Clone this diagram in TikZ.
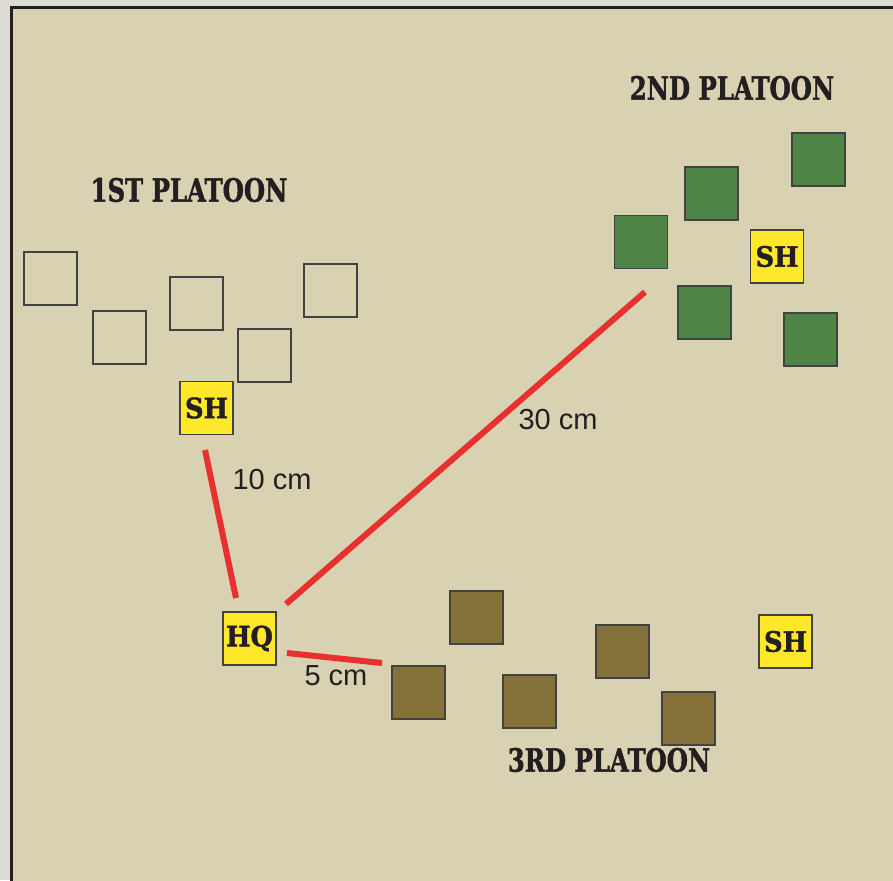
\documentclass[tikz,border=0pt]{standalone}
\usepackage{fontspec}
\setmainfont{Liberation Serif}
\newfontfamily\labfont{Liberation Sans}
\newfontfamily\stenfont[BoldFeatures={FakeBold=1.6}]{DejaVu Serif}
\definecolor{bgout}{HTML}{DCDBD6}
\definecolor{field}{HTML}{D8D2B2}
\definecolor{grn}{HTML}{4F8447}
\definecolor{olv}{HTML}{84723A}
\definecolor{ylw}{HTML}{FFE82A}
\definecolor{redl}{HTML}{E8302F}
\definecolor{ink}{HTML}{231F20}
\begin{document}
\begin{tikzpicture}[x=1pt,y=-1pt,
  unit/.style={draw=ink!85,line width=1.2pt,minimum size=53pt,inner sep=0pt,outer sep=0pt},
  emptyu/.style={unit},
  greenu/.style={unit,fill=grn},
  olivu/.style={unit,fill=olv},
  cmd/.style={unit,fill=ylw,text=ink},
  cmdtxt/.style={font=\stenfont\fontsize{28}{28}\selectfont\bfseries,text=ink,xscale=0.92,transform shape},
  title/.style={font=\stenfont\fontsize{32}{32}\selectfont\bfseries,text=ink,xscale=0.76,transform shape},
  dist/.style={font=\labfont\fontsize{29}{29}\selectfont,text=ink},
  meas/.style={draw=redl,line width=6pt}]
\useasboundingbox (0,0) rectangle (893,880);
\fill[bgout] (0,0) rectangle (893,880);
\fill[field,draw=ink,line width=3pt] (11,8) rectangle (905,900);
% 1st platoon
\node[emptyu] (a1) at (50.5,278.5) {};
\node[emptyu] (a2) at (119.5,337.5) {};
\node[emptyu] (a3) at (196.5,303.5) {};
\node[emptyu] (a4) at (264.5,355.5) {};
\node[emptyu] (a5) at (330.5,290.5) {};
\node[cmd] (sh1) at (206.5,408) {};
\node[cmdtxt] (sh1t) at (sh1) {SH};
% 2nd platoon
\node[greenu] (b1) at (818.5,159.5) {};
\node[greenu] (b2) at (711.5,193.5) {};
\node[greenu] (b3) at (641,242) {};
\node[greenu] (b4) at (704.5,312.5) {};
\node[greenu] (b5) at (810.5,339.5) {};
\node[cmd] (sh2) at (777,256.5) {};
\node[cmdtxt] (sh2t) at (sh2) {SH};
% 3rd platoon
\node[olivu] (c1) at (476.5,617.5) {};
\node[olivu] (c2) at (418.5,692.5) {};
\node[olivu] (c3) at (529.5,701.5) {};
\node[olivu] (c4) at (622.5,651.5) {};
\node[olivu] (c5) at (688.5,718.5) {};
\node[cmd] (sh3) at (785.5,641.5) {};
\node[cmdtxt] (sh3t) at (sh3) {SH};
\node[cmd] (hq) at (249.5,638.5) {};
\node[cmdtxt] (hqt) at (hq) {HQ};
% titles
\node[title] (t1) at (189,190) {1ST PLATOON};
\node[title] (t2) at (732,88) {2ND PLATOON};
\node[title] (t3) at (609,760) {3RD PLATOON};
% measurement lines
\coordinate (l1a) at (205,450); \coordinate (l1b) at (236,598);
\coordinate (l2a) at (286,604); \coordinate (l2b) at (645,292);
\coordinate (l3a) at (287,653); \coordinate (l3b) at (382,663);
\draw[meas] (l1a) -- (l1b);
\draw[meas] (l2a) -- (l2b);
\draw[meas] (l3a) -- (l3b);
\node[dist] (d1) at (272,480) {10 cm};
\node[dist] (d2) at (558,420) {30 cm};
\node[dist] (d3) at (336,676) {5 cm};
\end{tikzpicture}
\end{document}
